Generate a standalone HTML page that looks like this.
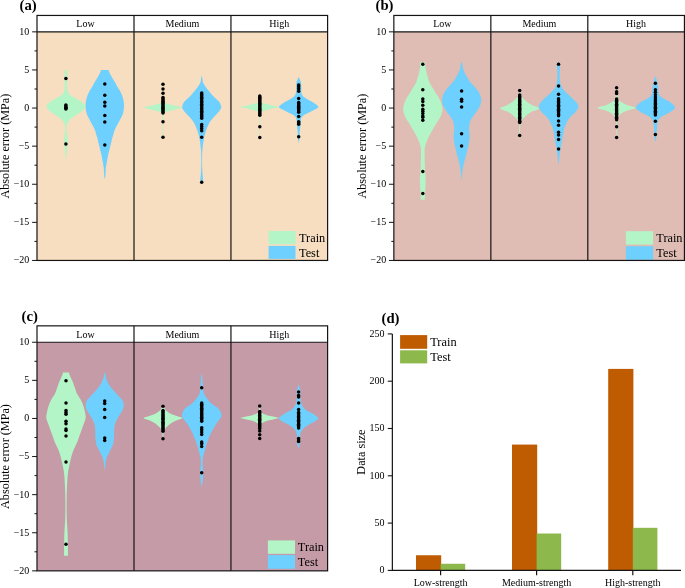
<!DOCTYPE html>
<html><head><meta charset="utf-8"><style>
html,body{margin:0;padding:0;background:#fff;}
svg{display:block;will-change:transform;}
text{font-family:'Liberation Serif',serif;fill:#000;}
</style></head><body>
<svg width="685" height="588" viewBox="0 0 685 588">
<rect width="685" height="588" fill="#fff"/>
<rect x="37.0" y="31.85" width="290.60" height="228.60" fill="#F7DEC0"/>
<path d="M67.05,69.90 C67.09,70.50 67.19,72.08 67.26,73.50 C67.34,74.92 67.51,76.98 67.50,78.40 C67.49,79.82 67.25,80.68 67.20,82.00 C67.15,83.32 67.18,85.10 67.20,86.30 C67.22,87.50 67.18,88.28 67.30,89.20 C67.42,90.12 67.60,91.02 67.90,91.80 C68.20,92.58 68.67,93.27 69.10,93.90 C69.53,94.53 69.73,95.03 70.50,95.60 C71.27,96.17 72.67,96.77 73.70,97.30 C74.73,97.83 75.38,98.02 76.70,98.80 C78.02,99.58 80.23,100.92 81.60,102.00 C82.97,103.08 84.30,104.43 84.90,105.30 C85.50,106.17 85.65,106.23 85.20,107.20 C84.75,108.17 83.20,110.10 82.20,111.10 C81.20,112.10 80.77,112.18 79.20,113.20 C77.63,114.22 74.55,115.85 72.80,117.20 C71.05,118.55 69.70,119.93 68.70,121.30 C67.70,122.67 67.15,123.87 66.80,125.40 C66.45,126.93 66.50,128.80 66.60,130.50 C66.70,132.20 67.22,134.07 67.40,135.60 C67.58,137.13 67.65,138.30 67.70,139.70 C67.75,141.10 67.80,142.47 67.70,144.00 C67.60,145.53 67.28,147.23 67.10,148.90 C66.92,150.57 66.80,152.15 66.60,154.00 C66.40,155.85 66.02,159.00 65.90,160.00 L65.90,160.00 C65.78,159.00 65.40,155.85 65.20,154.00 C65.00,152.15 64.88,150.57 64.70,148.90 C64.52,147.23 64.20,145.53 64.10,144.00 C64.00,142.47 64.05,141.10 64.10,139.70 C64.15,138.30 64.22,137.13 64.40,135.60 C64.58,134.07 65.10,132.20 65.20,130.50 C65.30,128.80 65.35,126.93 65.00,125.40 C64.65,123.87 64.10,122.67 63.10,121.30 C62.10,119.93 60.75,118.55 59.00,117.20 C57.25,115.85 54.17,114.22 52.60,113.20 C51.03,112.18 50.60,112.10 49.60,111.10 C48.60,110.10 47.05,108.17 46.60,107.20 C46.15,106.23 46.30,106.17 46.90,105.30 C47.50,104.43 48.83,103.08 50.20,102.00 C51.57,100.92 53.78,99.58 55.10,98.80 C56.42,98.02 57.07,97.83 58.10,97.30 C59.13,96.77 60.53,96.17 61.30,95.60 C62.07,95.03 62.27,94.53 62.70,93.90 C63.13,93.27 63.60,92.58 63.90,91.80 C64.20,91.02 64.38,90.12 64.50,89.20 C64.62,88.28 64.58,87.50 64.60,86.30 C64.62,85.10 64.65,83.32 64.60,82.00 C64.55,80.68 64.31,79.82 64.30,78.40 C64.29,76.98 64.47,74.92 64.54,73.50 C64.62,72.08 64.72,70.50 64.75,69.90 Z" fill="#B3F5C6"/>
<path d="M108.50,69.90 C108.80,70.62 109.63,72.82 110.30,74.20 C110.97,75.58 111.72,76.85 112.50,78.20 C113.28,79.55 114.22,80.93 115.00,82.30 C115.78,83.67 116.45,85.12 117.20,86.40 C117.95,87.68 118.78,88.72 119.50,90.00 C120.22,91.28 120.92,92.73 121.50,94.10 C122.08,95.47 122.57,96.85 122.95,98.20 C123.33,99.55 123.62,100.85 123.80,102.20 C123.97,103.55 124.03,104.93 124.00,106.30 C123.97,107.67 123.80,109.12 123.60,110.40 C123.40,111.68 123.24,112.72 122.80,114.00 C122.36,115.28 121.63,116.73 120.95,118.10 C120.27,119.47 119.44,120.85 118.70,122.20 C117.96,123.55 117.18,124.85 116.50,126.20 C115.82,127.55 115.12,128.93 114.60,130.30 C114.08,131.67 113.79,133.12 113.40,134.40 C113.01,135.68 112.59,136.72 112.25,138.00 C111.91,139.28 111.67,140.73 111.35,142.10 C111.02,143.47 110.64,144.85 110.30,146.20 C109.96,147.55 109.64,148.85 109.30,150.20 C108.96,151.55 108.55,152.93 108.25,154.30 C107.95,155.67 107.74,157.12 107.50,158.40 C107.26,159.68 106.97,161.05 106.80,162.00 C106.62,162.95 106.62,163.07 106.45,164.10 C106.28,165.13 105.94,166.85 105.80,168.20 C105.66,169.55 105.67,170.85 105.60,172.20 C105.52,173.55 105.48,175.08 105.35,176.30 C105.22,177.52 104.89,178.97 104.80,179.50 L104.80,179.50 C104.71,178.97 104.38,177.52 104.25,176.30 C104.12,175.08 104.08,173.55 104.00,172.20 C103.92,170.85 103.94,169.55 103.80,168.20 C103.66,166.85 103.32,165.13 103.15,164.10 C102.98,163.07 102.97,162.95 102.80,162.00 C102.62,161.05 102.34,159.68 102.10,158.40 C101.86,157.12 101.65,155.67 101.35,154.30 C101.05,152.93 100.64,151.55 100.30,150.20 C99.96,148.85 99.64,147.55 99.30,146.20 C98.96,144.85 98.58,143.47 98.25,142.10 C97.92,140.73 97.69,139.28 97.35,138.00 C97.01,136.72 96.59,135.68 96.20,134.40 C95.81,133.12 95.52,131.67 95.00,130.30 C94.48,128.93 93.78,127.55 93.10,126.20 C92.42,124.85 91.64,123.55 90.90,122.20 C90.16,120.85 89.33,119.47 88.65,118.10 C87.97,116.73 87.24,115.28 86.80,114.00 C86.36,112.72 86.20,111.68 86.00,110.40 C85.80,109.12 85.63,107.67 85.60,106.30 C85.57,104.93 85.62,103.55 85.80,102.20 C85.97,100.85 86.27,99.55 86.65,98.20 C87.03,96.85 87.52,95.47 88.10,94.10 C88.67,92.73 89.38,91.28 90.10,90.00 C90.82,88.72 91.65,87.68 92.40,86.40 C93.15,85.12 93.82,83.67 94.60,82.30 C95.38,80.93 96.32,79.55 97.10,78.20 C97.88,76.85 98.63,75.58 99.30,74.20 C99.97,72.82 100.80,70.62 101.10,69.90 Z" fill="#6DD0FE"/>
<path d="M163.35,84.00 C163.36,86.17 163.29,94.08 163.40,97.00 C163.51,99.92 163.73,100.55 164.00,101.50 C164.27,102.45 164.57,102.35 165.00,102.70 C165.43,103.05 165.58,103.27 166.60,103.60 C167.62,103.93 169.28,104.25 171.10,104.70 C172.92,105.15 175.65,105.85 177.50,106.30 C179.35,106.75 182.20,107.00 182.20,107.40 C182.20,107.80 179.35,108.18 177.50,108.70 C175.65,109.22 172.92,110.00 171.10,110.50 C169.28,111.00 167.62,111.33 166.60,111.70 C165.58,112.07 165.43,112.32 165.00,112.70 C164.57,113.08 164.27,113.12 164.00,114.00 C163.73,114.88 163.51,114.08 163.40,118.00 C163.29,121.92 163.36,134.25 163.35,137.50 L162.65,137.50 C162.64,134.25 162.71,121.92 162.60,118.00 C162.49,114.08 162.27,114.88 162.00,114.00 C161.73,113.12 161.43,113.08 161.00,112.70 C160.57,112.32 160.42,112.07 159.40,111.70 C158.38,111.33 156.72,111.00 154.90,110.50 C153.08,110.00 150.35,109.22 148.50,108.70 C146.65,108.18 143.80,107.80 143.80,107.40 C143.80,107.00 146.65,106.75 148.50,106.30 C150.35,105.85 153.08,105.15 154.90,104.70 C156.72,104.25 158.38,103.93 159.40,103.60 C160.42,103.27 160.57,103.05 161.00,102.70 C161.43,102.35 161.73,102.45 162.00,101.50 C162.27,100.55 162.49,99.92 162.60,97.00 C162.71,94.08 162.64,86.17 162.65,84.00 Z" fill="#B3F5C6"/>
<path d="M201.70,75.80 C201.80,76.18 202.10,77.03 202.30,78.10 C202.50,79.17 202.42,80.85 202.90,82.20 C203.38,83.55 204.32,84.85 205.20,86.20 C206.08,87.55 207.12,88.93 208.20,90.30 C209.28,91.67 210.55,93.12 211.70,94.40 C212.85,95.68 213.83,96.72 215.10,98.00 C216.37,99.28 218.30,100.73 219.30,102.10 C220.30,103.47 220.82,105.18 221.10,106.20 C221.38,107.22 221.20,107.53 221.00,108.20 C220.80,108.87 220.65,109.18 219.90,110.20 C219.15,111.22 217.72,112.93 216.50,114.30 C215.28,115.67 213.72,117.12 212.60,118.40 C211.48,119.68 210.59,120.72 209.80,122.00 C209.01,123.28 208.45,124.73 207.85,126.10 C207.25,127.47 206.68,128.85 206.20,130.20 C205.72,131.55 205.32,132.85 204.95,134.20 C204.57,135.55 204.22,136.93 203.95,138.30 C203.67,139.67 203.48,141.12 203.30,142.40 C203.12,143.68 203.00,144.73 202.85,146.00 C202.70,147.27 202.52,148.50 202.40,150.00 C202.28,151.50 202.20,152.50 202.15,155.00 C202.10,157.50 202.04,161.98 202.10,165.00 C202.16,168.02 202.37,171.02 202.50,173.10 C202.63,175.18 202.82,176.18 202.90,177.50 C202.98,178.82 203.20,179.92 203.00,181.00 C202.80,182.08 201.92,183.50 201.70,184.00 L201.70,184.00 C201.48,183.50 200.60,182.08 200.40,181.00 C200.20,179.92 200.42,178.82 200.50,177.50 C200.58,176.18 200.77,175.18 200.90,173.10 C201.03,171.02 201.24,168.02 201.30,165.00 C201.36,161.98 201.30,157.50 201.25,155.00 C201.20,152.50 201.12,151.50 201.00,150.00 C200.88,148.50 200.70,147.27 200.55,146.00 C200.40,144.73 200.28,143.68 200.10,142.40 C199.92,141.12 199.72,139.67 199.45,138.30 C199.17,136.93 198.82,135.55 198.45,134.20 C198.07,132.85 197.68,131.55 197.20,130.20 C196.72,128.85 196.15,127.47 195.55,126.10 C194.95,124.73 194.39,123.28 193.60,122.00 C192.81,120.72 191.92,119.68 190.80,118.40 C189.68,117.12 188.12,115.67 186.90,114.30 C185.68,112.93 184.25,111.22 183.50,110.20 C182.75,109.18 182.60,108.87 182.40,108.20 C182.20,107.53 182.02,107.22 182.30,106.20 C182.58,105.18 183.10,103.47 184.10,102.10 C185.10,100.73 187.03,99.28 188.30,98.00 C189.57,96.72 190.55,95.68 191.70,94.40 C192.85,93.12 194.12,91.67 195.20,90.30 C196.28,88.93 197.32,87.55 198.20,86.20 C199.08,84.85 200.02,83.55 200.50,82.20 C200.98,80.85 200.90,79.17 201.10,78.10 C201.30,77.03 201.60,76.18 201.70,75.80 Z" fill="#6DD0FE"/>
<path d="M260.20,95.00 C260.27,96.00 260.33,99.72 260.60,101.00 C260.87,102.28 261.05,102.27 261.80,102.70 C262.55,103.13 263.33,103.12 265.10,103.60 C266.87,104.08 270.03,105.02 272.40,105.60 C274.77,106.18 279.30,106.63 279.30,107.10 C279.30,107.57 274.77,107.83 272.40,108.40 C270.03,108.97 266.87,110.00 265.10,110.50 C263.33,111.00 262.57,110.98 261.80,111.40 C261.03,111.82 260.77,112.23 260.50,113.00 C260.23,113.77 260.27,111.75 260.20,116.00 C260.13,120.25 260.12,134.75 260.10,138.50 L259.50,138.50 C259.48,134.75 259.47,120.25 259.40,116.00 C259.33,111.75 259.37,113.77 259.10,113.00 C258.83,112.23 258.57,111.82 257.80,111.40 C257.03,110.98 256.27,111.00 254.50,110.50 C252.73,110.00 249.57,108.97 247.20,108.40 C244.83,107.83 240.30,107.57 240.30,107.10 C240.30,106.63 244.83,106.18 247.20,105.60 C249.57,105.02 252.73,104.08 254.50,103.60 C256.27,103.12 257.05,103.13 257.80,102.70 C258.55,102.27 258.73,102.28 259.00,101.00 C259.27,99.72 259.33,96.00 259.40,95.00 Z" fill="#B3F5C6"/>
<path d="M298.70,77.10 C299.07,77.95 300.47,80.38 300.90,82.20 C301.33,84.02 301.18,86.08 301.30,88.00 C301.42,89.92 301.03,92.12 301.60,93.70 C302.17,95.28 303.12,96.23 304.70,97.50 C306.28,98.77 309.18,100.13 311.10,101.30 C313.02,102.47 314.98,103.55 316.20,104.50 C317.42,105.45 318.62,106.15 318.40,107.00 C318.18,107.85 316.53,108.63 314.90,109.60 C313.27,110.57 310.62,111.75 308.60,112.80 C306.58,113.85 304.07,114.85 302.80,115.90 C301.53,116.95 301.42,117.28 301.00,119.10 C300.58,120.92 300.52,124.67 300.30,126.80 C300.08,128.93 299.80,130.25 299.70,131.90 C299.60,133.55 299.87,134.80 299.70,136.70 C299.53,138.60 298.87,142.20 298.70,143.30 L298.70,143.30 C298.53,142.20 297.87,138.60 297.70,136.70 C297.53,134.80 297.80,133.55 297.70,131.90 C297.60,130.25 297.32,128.93 297.10,126.80 C296.88,124.67 296.82,120.92 296.40,119.10 C295.98,117.28 295.87,116.95 294.60,115.90 C293.33,114.85 290.82,113.85 288.80,112.80 C286.78,111.75 284.13,110.57 282.50,109.60 C280.87,108.63 279.22,107.85 279.00,107.00 C278.78,106.15 279.98,105.45 281.20,104.50 C282.42,103.55 284.38,102.47 286.30,101.30 C288.22,100.13 291.12,98.77 292.70,97.50 C294.28,96.23 295.23,95.28 295.80,93.70 C296.37,92.12 295.98,89.92 296.10,88.00 C296.22,86.08 296.07,84.02 296.50,82.20 C296.93,80.38 298.33,77.95 298.70,77.10 Z" fill="#6DD0FE"/>
<circle cx="65.90" cy="78.40" r="1.75"/>
<circle cx="65.90" cy="104.90" r="1.75"/>
<circle cx="65.90" cy="106.00" r="1.75"/>
<circle cx="65.90" cy="107.20" r="1.75"/>
<circle cx="65.90" cy="108.20" r="1.75"/>
<circle cx="65.90" cy="109.10" r="1.75"/>
<circle cx="65.90" cy="144.00" r="1.75"/>
<circle cx="104.80" cy="83.90" r="1.75"/>
<circle cx="104.80" cy="95.30" r="1.75"/>
<circle cx="104.80" cy="102.20" r="1.75"/>
<circle cx="104.80" cy="106.10" r="1.75"/>
<circle cx="104.80" cy="115.50" r="1.75"/>
<circle cx="104.80" cy="122.00" r="1.75"/>
<circle cx="104.80" cy="144.90" r="1.75"/>
<circle cx="163.00" cy="84.30" r="1.75"/>
<circle cx="163.00" cy="89.10" r="1.75"/>
<circle cx="163.00" cy="93.30" r="1.75"/>
<circle cx="163.00" cy="97.50" r="1.75"/>
<circle cx="163.00" cy="98.80" r="1.75"/>
<circle cx="163.00" cy="100.00" r="1.75"/>
<circle cx="163.00" cy="101.20" r="1.75"/>
<circle cx="163.00" cy="102.40" r="1.75"/>
<circle cx="163.00" cy="103.60" r="1.75"/>
<circle cx="163.00" cy="104.80" r="1.75"/>
<circle cx="163.00" cy="106.00" r="1.75"/>
<circle cx="163.00" cy="107.20" r="1.75"/>
<circle cx="163.00" cy="108.40" r="1.75"/>
<circle cx="163.00" cy="109.60" r="1.75"/>
<circle cx="163.00" cy="110.80" r="1.75"/>
<circle cx="163.00" cy="112.00" r="1.75"/>
<circle cx="163.00" cy="113.00" r="1.75"/>
<circle cx="163.00" cy="121.80" r="1.75"/>
<circle cx="163.00" cy="137.30" r="1.75"/>
<circle cx="201.70" cy="93.00" r="1.75"/>
<circle cx="201.70" cy="94.40" r="1.75"/>
<circle cx="201.70" cy="95.80" r="1.75"/>
<circle cx="201.70" cy="97.20" r="1.75"/>
<circle cx="201.70" cy="98.60" r="1.75"/>
<circle cx="201.70" cy="100.00" r="1.75"/>
<circle cx="201.70" cy="101.40" r="1.75"/>
<circle cx="201.70" cy="102.80" r="1.75"/>
<circle cx="201.70" cy="104.20" r="1.75"/>
<circle cx="201.70" cy="105.60" r="1.75"/>
<circle cx="201.70" cy="107.00" r="1.75"/>
<circle cx="201.70" cy="108.40" r="1.75"/>
<circle cx="201.70" cy="109.80" r="1.75"/>
<circle cx="201.70" cy="111.20" r="1.75"/>
<circle cx="201.70" cy="112.60" r="1.75"/>
<circle cx="201.70" cy="114.00" r="1.75"/>
<circle cx="201.70" cy="115.40" r="1.75"/>
<circle cx="201.70" cy="116.80" r="1.75"/>
<circle cx="201.70" cy="118.20" r="1.75"/>
<circle cx="201.70" cy="124.50" r="1.75"/>
<circle cx="201.70" cy="126.50" r="1.75"/>
<circle cx="201.70" cy="128.50" r="1.75"/>
<circle cx="201.70" cy="130.80" r="1.75"/>
<circle cx="201.70" cy="137.30" r="1.75"/>
<circle cx="201.70" cy="182.30" r="1.75"/>
<circle cx="259.80" cy="96.10" r="1.75"/>
<circle cx="259.80" cy="97.30" r="1.75"/>
<circle cx="259.80" cy="98.50" r="1.75"/>
<circle cx="259.80" cy="99.70" r="1.75"/>
<circle cx="259.80" cy="100.90" r="1.75"/>
<circle cx="259.80" cy="102.10" r="1.75"/>
<circle cx="259.80" cy="103.30" r="1.75"/>
<circle cx="259.80" cy="104.50" r="1.75"/>
<circle cx="259.80" cy="105.70" r="1.75"/>
<circle cx="259.80" cy="106.90" r="1.75"/>
<circle cx="259.80" cy="108.10" r="1.75"/>
<circle cx="259.80" cy="109.30" r="1.75"/>
<circle cx="259.80" cy="110.50" r="1.75"/>
<circle cx="259.80" cy="111.70" r="1.75"/>
<circle cx="259.80" cy="112.90" r="1.75"/>
<circle cx="259.80" cy="114.10" r="1.75"/>
<circle cx="259.80" cy="115.30" r="1.75"/>
<circle cx="259.80" cy="126.80" r="1.75"/>
<circle cx="259.80" cy="137.60" r="1.75"/>
<circle cx="298.70" cy="84.90" r="1.75"/>
<circle cx="298.70" cy="86.80" r="1.75"/>
<circle cx="298.70" cy="88.80" r="1.75"/>
<circle cx="298.70" cy="91.20" r="1.75"/>
<circle cx="298.70" cy="98.40" r="1.75"/>
<circle cx="298.70" cy="102.60" r="1.75"/>
<circle cx="298.70" cy="103.80" r="1.75"/>
<circle cx="298.70" cy="105.00" r="1.75"/>
<circle cx="298.70" cy="106.20" r="1.75"/>
<circle cx="298.70" cy="107.40" r="1.75"/>
<circle cx="298.70" cy="108.60" r="1.75"/>
<circle cx="298.70" cy="109.80" r="1.75"/>
<circle cx="298.70" cy="111.00" r="1.75"/>
<circle cx="298.70" cy="112.20" r="1.75"/>
<circle cx="298.70" cy="116.40" r="1.75"/>
<circle cx="298.70" cy="121.70" r="1.75"/>
<circle cx="298.70" cy="123.00" r="1.75"/>
<circle cx="298.70" cy="124.20" r="1.75"/>
<circle cx="298.70" cy="136.70" r="1.75"/>
<rect x="268.6" y="231.0" width="26.90" height="13.10" fill="#B3F5C6"/>
<rect x="268.6" y="245.9" width="26.90" height="13.00" fill="#6DD0FE"/>
<text x="299.0" y="241.9" font-size="12.3">Train</text>
<text x="299.0" y="256.7" font-size="12.3">Test</text>
<g stroke="#141414" stroke-width="1.2" fill="none">
<rect x="37.0" y="15.45" width="290.60" height="245.00"/>
<line x1="37.0" y1="31.85" x2="327.6" y2="31.85"/>
<line x1="134.00" y1="15.45" x2="134.00" y2="260.45"/>
<line x1="230.95" y1="15.45" x2="230.95" y2="260.45"/>
<line x1="32.10" y1="31.85" x2="37.0" y2="31.85" stroke-width="1.0"/>
<line x1="34.50" y1="50.90" x2="37.0" y2="50.90" stroke-width="1.0"/>
<line x1="32.10" y1="69.95" x2="37.0" y2="69.95" stroke-width="1.0"/>
<line x1="34.50" y1="89.00" x2="37.0" y2="89.00" stroke-width="1.0"/>
<line x1="32.10" y1="108.05" x2="37.0" y2="108.05" stroke-width="1.0"/>
<line x1="34.50" y1="127.10" x2="37.0" y2="127.10" stroke-width="1.0"/>
<line x1="32.10" y1="146.15" x2="37.0" y2="146.15" stroke-width="1.0"/>
<line x1="34.50" y1="165.20" x2="37.0" y2="165.20" stroke-width="1.0"/>
<line x1="32.10" y1="184.25" x2="37.0" y2="184.25" stroke-width="1.0"/>
<line x1="34.50" y1="203.30" x2="37.0" y2="203.30" stroke-width="1.0"/>
<line x1="32.10" y1="222.35" x2="37.0" y2="222.35" stroke-width="1.0"/>
<line x1="34.50" y1="241.40" x2="37.0" y2="241.40" stroke-width="1.0"/>
<line x1="32.10" y1="260.45" x2="37.0" y2="260.45" stroke-width="1.0"/>
</g>
<text x="29.30" y="34.75" font-size="10" text-anchor="end">10</text>
<text x="29.30" y="72.85" font-size="10" text-anchor="end">5</text>
<text x="29.30" y="110.95" font-size="10" text-anchor="end">0</text>
<text x="29.30" y="149.05" font-size="10" text-anchor="end">−5</text>
<text x="29.30" y="187.15" font-size="10" text-anchor="end">−10</text>
<text x="29.30" y="225.25" font-size="10" text-anchor="end">−15</text>
<text x="29.30" y="263.35" font-size="10" text-anchor="end">−20</text>
<text x="85.50" y="27.00" font-size="10" text-anchor="middle">Low</text>
<text x="182.47" y="27.00" font-size="10" text-anchor="middle">Medium</text>
<text x="279.27" y="27.00" font-size="10" text-anchor="middle">High</text>
<text transform="translate(8.90,146.15) rotate(-90)" font-size="12.2" text-anchor="middle">Absolute error (MPa)</text>
<text x="19.50" y="9.50" font-size="14.7" font-weight="bold">(a)</text>
<rect x="393.85" y="31.85" width="290.60" height="228.60" fill="#DFBDB4"/>
<path d="M425.20,62.20 C425.23,62.85 425.26,64.77 425.40,66.10 C425.54,67.43 425.80,68.83 426.05,70.20 C426.30,71.57 426.56,72.93 426.90,74.30 C427.24,75.67 427.67,77.05 428.10,78.40 C428.53,79.75 429.13,81.47 429.50,82.40 C429.87,83.33 429.75,83.05 430.30,84.00 C430.85,84.95 431.98,86.73 432.80,88.10 C433.62,89.47 434.35,90.85 435.20,92.20 C436.05,93.55 437.08,94.85 437.90,96.20 C438.72,97.55 439.48,98.93 440.10,100.30 C440.72,101.67 441.22,103.12 441.60,104.40 C441.98,105.68 442.32,106.72 442.40,108.00 C442.48,109.28 442.38,110.73 442.10,112.10 C441.82,113.47 441.30,114.85 440.70,116.20 C440.10,117.55 439.32,118.85 438.50,120.20 C437.68,121.55 436.65,122.93 435.80,124.30 C434.95,125.67 434.13,127.12 433.40,128.40 C432.67,129.68 432.10,130.72 431.40,132.00 C430.70,133.28 429.90,134.73 429.20,136.10 C428.50,137.47 427.78,138.85 427.20,140.20 C426.62,141.55 426.10,142.85 425.70,144.20 C425.30,145.55 424.98,146.93 424.80,148.30 C424.62,149.67 424.62,151.08 424.60,152.40 C424.58,153.72 424.62,154.23 424.65,156.20 C424.68,158.17 424.73,161.65 424.80,164.20 C424.88,166.75 424.98,169.47 425.10,171.50 C425.22,173.53 425.41,174.50 425.50,176.40 C425.59,178.30 425.67,180.85 425.65,182.90 C425.63,184.95 425.51,186.85 425.40,188.70 C425.29,190.55 425.10,192.17 425.00,194.00 C424.90,195.83 424.83,198.75 424.80,199.70 L420.80,199.70 C420.77,198.75 420.70,195.83 420.60,194.00 C420.50,192.17 420.31,190.55 420.20,188.70 C420.09,186.85 419.97,184.95 419.95,182.90 C419.93,180.85 420.01,178.30 420.10,176.40 C420.19,174.50 420.38,173.53 420.50,171.50 C420.62,169.47 420.73,166.75 420.80,164.20 C420.88,161.65 420.92,158.17 420.95,156.20 C420.98,154.23 421.02,153.72 421.00,152.40 C420.98,151.08 420.98,149.67 420.80,148.30 C420.62,146.93 420.30,145.55 419.90,144.20 C419.50,142.85 418.98,141.55 418.40,140.20 C417.82,138.85 417.10,137.47 416.40,136.10 C415.70,134.73 414.90,133.28 414.20,132.00 C413.50,130.72 412.93,129.68 412.20,128.40 C411.47,127.12 410.65,125.67 409.80,124.30 C408.95,122.93 407.92,121.55 407.10,120.20 C406.28,118.85 405.50,117.55 404.90,116.20 C404.30,114.85 403.78,113.47 403.50,112.10 C403.22,110.73 403.12,109.28 403.20,108.00 C403.28,106.72 403.62,105.68 404.00,104.40 C404.38,103.12 404.88,101.67 405.50,100.30 C406.12,98.93 406.88,97.55 407.70,96.20 C408.52,94.85 409.55,93.55 410.40,92.20 C411.25,90.85 411.98,89.47 412.80,88.10 C413.62,86.73 414.75,84.95 415.30,84.00 C415.85,83.05 415.73,83.33 416.10,82.40 C416.47,81.47 417.07,79.75 417.50,78.40 C417.93,77.05 418.36,75.67 418.70,74.30 C419.04,72.93 419.30,71.57 419.55,70.20 C419.80,68.83 420.06,67.43 420.20,66.10 C420.34,64.77 420.37,62.85 420.40,62.20 Z" fill="#B3F5C6"/>
<path d="M461.60,61.50 C461.73,61.93 462.17,62.98 462.40,64.10 C462.63,65.22 462.67,66.85 463.00,68.20 C463.33,69.55 463.82,70.85 464.40,72.20 C464.98,73.55 465.72,74.93 466.50,76.30 C467.28,77.67 468.18,79.12 469.10,80.40 C470.02,81.68 470.91,82.72 472.00,84.00 C473.09,85.28 474.53,86.73 475.65,88.10 C476.77,89.47 477.88,90.85 478.70,92.20 C479.52,93.55 480.13,94.85 480.55,96.20 C480.97,97.55 481.20,98.93 481.20,100.30 C481.20,101.67 480.96,103.12 480.55,104.40 C480.14,105.68 479.46,106.72 478.75,108.00 C478.04,109.28 477.23,110.73 476.30,112.10 C475.38,113.47 474.15,114.85 473.20,116.20 C472.25,117.55 471.23,118.85 470.60,120.20 C469.97,121.55 469.67,122.93 469.40,124.30 C469.13,125.67 469.03,127.12 469.00,128.40 C468.97,129.68 469.10,130.72 469.20,132.00 C469.30,133.28 469.58,134.73 469.60,136.10 C469.62,137.47 469.49,138.85 469.35,140.20 C469.21,141.55 469.02,142.85 468.75,144.20 C468.48,145.55 468.04,146.93 467.70,148.30 C467.36,149.67 467.01,151.12 466.70,152.40 C466.39,153.68 466.22,154.60 465.85,156.00 C465.48,157.40 464.91,159.22 464.50,160.80 C464.09,162.38 463.73,163.92 463.40,165.50 C463.08,167.08 462.76,168.72 462.55,170.30 C462.34,171.88 462.31,173.25 462.15,175.00 C461.99,176.75 461.69,179.83 461.60,180.80 L461.60,180.80 C461.51,179.83 461.21,176.75 461.05,175.00 C460.89,173.25 460.86,171.88 460.65,170.30 C460.44,168.72 460.12,167.08 459.80,165.50 C459.48,163.92 459.11,162.38 458.70,160.80 C458.29,159.22 457.72,157.40 457.35,156.00 C456.98,154.60 456.81,153.68 456.50,152.40 C456.19,151.12 455.84,149.67 455.50,148.30 C455.16,146.93 454.73,145.55 454.45,144.20 C454.18,142.85 453.99,141.55 453.85,140.20 C453.71,138.85 453.58,137.47 453.60,136.10 C453.62,134.73 453.90,133.28 454.00,132.00 C454.10,130.72 454.23,129.68 454.20,128.40 C454.17,127.12 454.07,125.67 453.80,124.30 C453.53,122.93 453.23,121.55 452.60,120.20 C451.97,118.85 450.95,117.55 450.00,116.20 C449.05,114.85 447.83,113.47 446.90,112.10 C445.98,110.73 445.16,109.28 444.45,108.00 C443.74,106.72 443.06,105.68 442.65,104.40 C442.24,103.12 442.00,101.67 442.00,100.30 C442.00,98.93 442.23,97.55 442.65,96.20 C443.07,94.85 443.68,93.55 444.50,92.20 C445.32,90.85 446.43,89.47 447.55,88.10 C448.67,86.73 450.11,85.28 451.20,84.00 C452.29,82.72 453.18,81.68 454.10,80.40 C455.02,79.12 455.92,77.67 456.70,76.30 C457.48,74.93 458.22,73.55 458.80,72.20 C459.38,70.85 459.87,69.55 460.20,68.20 C460.53,66.85 460.57,65.22 460.80,64.10 C461.03,62.98 461.47,61.93 461.60,61.50 Z" fill="#6DD0FE"/>
<path d="M520.00,88.00 C520.02,88.67 519.97,90.75 520.15,92.00 C520.33,93.25 520.73,94.60 521.10,95.50 C521.48,96.40 521.55,96.45 522.40,97.40 C523.25,98.35 524.62,99.93 526.20,101.20 C527.78,102.47 529.72,103.80 531.90,105.00 C534.08,106.20 539.30,107.32 539.30,108.40 C539.30,109.48 534.08,110.32 531.90,111.50 C529.72,112.68 527.78,114.20 526.20,115.50 C524.62,116.80 523.23,118.35 522.40,119.30 C521.57,120.25 521.53,120.58 521.20,121.20 C520.87,121.82 520.58,122.20 520.40,123.00 C520.22,123.80 520.17,123.33 520.10,126.00 C520.03,128.67 520.02,136.83 520.00,139.00 L519.40,139.00 C519.38,136.83 519.37,128.67 519.30,126.00 C519.23,123.33 519.18,123.80 519.00,123.00 C518.82,122.20 518.53,121.82 518.20,121.20 C517.87,120.58 517.83,120.25 517.00,119.30 C516.17,118.35 514.78,116.80 513.20,115.50 C511.62,114.20 509.68,112.68 507.50,111.50 C505.32,110.32 500.10,109.48 500.10,108.40 C500.10,107.32 505.32,106.20 507.50,105.00 C509.68,103.80 511.62,102.47 513.20,101.20 C514.78,99.93 516.15,98.35 517.00,97.40 C517.85,96.45 517.93,96.40 518.30,95.50 C518.68,94.60 519.07,93.25 519.25,92.00 C519.43,90.75 519.38,88.67 519.40,88.00 Z" fill="#B3F5C6"/>
<path d="M559.05,62.60 C559.23,62.88 560.00,63.37 560.15,64.30 C560.30,65.23 560.02,66.70 559.95,68.20 C559.88,69.70 559.77,71.60 559.75,73.30 C559.73,75.00 559.82,77.28 559.85,78.40 C559.88,79.52 559.83,79.05 559.95,80.00 C560.07,80.95 560.13,82.73 560.55,84.10 C560.97,85.47 561.57,86.85 562.45,88.20 C563.33,89.55 564.57,90.85 565.85,92.20 C567.13,93.55 568.68,94.93 570.15,96.30 C571.62,97.67 573.42,99.12 574.65,100.40 C575.88,101.68 576.95,102.98 577.55,104.00 C578.15,105.02 578.15,105.82 578.25,106.50 C578.35,107.18 578.63,107.15 578.15,108.10 C577.67,109.05 576.53,110.85 575.35,112.20 C574.17,113.55 572.30,114.85 571.05,116.20 C569.80,117.55 568.70,118.93 567.85,120.30 C567.00,121.67 566.52,123.12 565.95,124.40 C565.38,125.68 564.80,126.72 564.40,128.00 C564.00,129.28 563.82,130.73 563.55,132.10 C563.27,133.47 562.99,134.85 562.75,136.20 C562.51,137.55 562.34,138.85 562.10,140.20 C561.86,141.55 561.55,142.93 561.30,144.30 C561.05,145.67 560.80,147.12 560.60,148.40 C560.40,149.68 560.27,150.73 560.10,152.00 C559.92,153.27 559.71,154.67 559.55,156.00 C559.39,157.33 559.32,158.50 559.15,160.00 C558.98,161.50 558.65,164.17 558.55,165.00 L558.55,165.00 C558.45,164.17 558.12,161.50 557.95,160.00 C557.78,158.50 557.71,157.33 557.55,156.00 C557.39,154.67 557.17,153.27 557.00,152.00 C556.83,150.73 556.70,149.68 556.50,148.40 C556.30,147.12 556.05,145.67 555.80,144.30 C555.55,142.93 555.24,141.55 555.00,140.20 C554.76,138.85 554.59,137.55 554.35,136.20 C554.11,134.85 553.82,133.47 553.55,132.10 C553.27,130.73 553.10,129.28 552.70,128.00 C552.30,126.72 551.72,125.68 551.15,124.40 C550.58,123.12 550.10,121.67 549.25,120.30 C548.40,118.93 547.30,117.55 546.05,116.20 C544.80,114.85 542.93,113.55 541.75,112.20 C540.57,110.85 539.43,109.05 538.95,108.10 C538.47,107.15 538.75,107.18 538.85,106.50 C538.95,105.82 538.95,105.02 539.55,104.00 C540.15,102.98 541.22,101.68 542.45,100.40 C543.68,99.12 545.48,97.67 546.95,96.30 C548.42,94.93 549.97,93.55 551.25,92.20 C552.53,90.85 553.77,89.55 554.65,88.20 C555.53,86.85 556.13,85.47 556.55,84.10 C556.97,82.73 557.03,80.95 557.15,80.00 C557.27,79.05 557.22,79.52 557.25,78.40 C557.28,77.28 557.37,75.00 557.35,73.30 C557.33,71.60 557.22,69.70 557.15,68.20 C557.08,66.70 556.80,65.23 556.95,64.30 C557.10,63.37 557.87,62.88 558.05,62.60 Z" fill="#6DD0FE"/>
<path d="M616.90,86.00 C616.92,87.17 616.90,91.17 617.00,93.00 C617.10,94.83 617.27,96.03 617.50,97.00 C617.73,97.97 618.08,98.23 618.40,98.80 C618.72,99.37 618.65,99.72 619.40,100.40 C620.15,101.08 621.28,102.02 622.90,102.90 C624.52,103.78 626.90,104.90 629.10,105.70 C631.30,106.50 636.10,106.97 636.10,107.70 C636.10,108.43 631.30,109.28 629.10,110.10 C626.90,110.92 624.52,111.75 622.90,112.60 C621.28,113.45 620.15,114.43 619.40,115.20 C618.65,115.97 618.75,116.57 618.40,117.20 C618.05,117.83 617.53,118.20 617.30,119.00 C617.07,119.80 617.07,118.67 617.00,122.00 C616.93,125.33 616.92,136.17 616.90,139.00 L616.30,139.00 C616.28,136.17 616.27,125.33 616.20,122.00 C616.13,118.67 616.13,119.80 615.90,119.00 C615.67,118.20 615.15,117.83 614.80,117.20 C614.45,116.57 614.55,115.97 613.80,115.20 C613.05,114.43 611.92,113.45 610.30,112.60 C608.68,111.75 606.30,110.92 604.10,110.10 C601.90,109.28 597.10,108.43 597.10,107.70 C597.10,106.97 601.90,106.50 604.10,105.70 C606.30,104.90 608.68,103.78 610.30,102.90 C611.92,102.02 613.05,101.08 613.80,100.40 C614.55,99.72 614.48,99.37 614.80,98.80 C615.12,98.23 615.47,97.97 615.70,97.00 C615.93,96.03 616.10,94.83 616.20,93.00 C616.30,91.17 616.28,87.17 616.30,86.00 Z" fill="#B3F5C6"/>
<path d="M655.40,75.80 C655.60,76.43 656.27,78.35 656.60,79.60 C656.93,80.85 657.12,82.02 657.40,83.30 C657.68,84.58 658.05,85.57 658.30,87.30 C658.55,89.03 658.32,92.00 658.90,93.70 C659.48,95.40 660.15,96.23 661.80,97.50 C663.45,98.77 666.95,100.13 668.80,101.30 C670.65,102.47 671.85,103.43 672.90,104.50 C673.95,105.57 675.28,106.63 675.10,107.70 C674.92,108.77 673.48,109.73 671.80,110.90 C670.12,112.07 666.98,113.53 665.00,114.70 C663.02,115.87 661.12,116.73 659.90,117.90 C658.68,119.07 658.18,120.22 657.70,121.70 C657.22,123.18 657.17,125.10 657.00,126.80 C656.83,128.50 656.83,130.00 656.70,131.90 C656.57,133.80 656.42,136.50 656.20,138.20 C655.98,139.90 655.53,141.45 655.40,142.10 L655.40,142.10 C655.27,141.45 654.82,139.90 654.60,138.20 C654.38,136.50 654.23,133.80 654.10,131.90 C653.97,130.00 653.97,128.50 653.80,126.80 C653.63,125.10 653.58,123.18 653.10,121.70 C652.62,120.22 652.12,119.07 650.90,117.90 C649.68,116.73 647.78,115.87 645.80,114.70 C643.82,113.53 640.68,112.07 639.00,110.90 C637.32,109.73 635.88,108.77 635.70,107.70 C635.52,106.63 636.85,105.57 637.90,104.50 C638.95,103.43 640.15,102.47 642.00,101.30 C643.85,100.13 647.35,98.77 649.00,97.50 C650.65,96.23 651.32,95.40 651.90,93.70 C652.48,92.00 652.25,89.03 652.50,87.30 C652.75,85.57 653.12,84.58 653.40,83.30 C653.68,82.02 653.87,80.85 654.20,79.60 C654.53,78.35 655.20,76.43 655.40,75.80 Z" fill="#6DD0FE"/>
<circle cx="422.80" cy="64.30" r="1.75"/>
<circle cx="422.80" cy="89.70" r="1.75"/>
<circle cx="422.80" cy="99.10" r="1.75"/>
<circle cx="422.80" cy="101.60" r="1.75"/>
<circle cx="422.80" cy="105.30" r="1.75"/>
<circle cx="422.80" cy="109.30" r="1.75"/>
<circle cx="422.80" cy="111.30" r="1.75"/>
<circle cx="422.80" cy="113.60" r="1.75"/>
<circle cx="422.80" cy="115.90" r="1.75"/>
<circle cx="422.80" cy="117.20" r="1.75"/>
<circle cx="422.80" cy="120.20" r="1.75"/>
<circle cx="422.80" cy="171.50" r="1.75"/>
<circle cx="422.80" cy="193.60" r="1.75"/>
<circle cx="461.60" cy="90.90" r="1.75"/>
<circle cx="461.60" cy="99.30" r="1.75"/>
<circle cx="461.60" cy="101.20" r="1.75"/>
<circle cx="461.60" cy="106.90" r="1.75"/>
<circle cx="461.60" cy="133.80" r="1.75"/>
<circle cx="461.60" cy="146.10" r="1.75"/>
<circle cx="519.70" cy="90.50" r="1.75"/>
<circle cx="519.70" cy="95.00" r="1.75"/>
<circle cx="519.70" cy="96.50" r="1.75"/>
<circle cx="519.70" cy="97.80" r="1.75"/>
<circle cx="519.70" cy="99.10" r="1.75"/>
<circle cx="519.70" cy="100.40" r="1.75"/>
<circle cx="519.70" cy="101.70" r="1.75"/>
<circle cx="519.70" cy="103.00" r="1.75"/>
<circle cx="519.70" cy="104.30" r="1.75"/>
<circle cx="519.70" cy="105.60" r="1.75"/>
<circle cx="519.70" cy="106.90" r="1.75"/>
<circle cx="519.70" cy="108.20" r="1.75"/>
<circle cx="519.70" cy="109.50" r="1.75"/>
<circle cx="519.70" cy="110.80" r="1.75"/>
<circle cx="519.70" cy="112.10" r="1.75"/>
<circle cx="519.70" cy="113.40" r="1.75"/>
<circle cx="519.70" cy="114.70" r="1.75"/>
<circle cx="519.70" cy="116.00" r="1.75"/>
<circle cx="519.70" cy="117.30" r="1.75"/>
<circle cx="519.70" cy="118.60" r="1.75"/>
<circle cx="519.70" cy="119.90" r="1.75"/>
<circle cx="519.70" cy="121.20" r="1.75"/>
<circle cx="519.70" cy="122.50" r="1.75"/>
<circle cx="519.70" cy="135.50" r="1.75"/>
<circle cx="558.55" cy="64.30" r="1.75"/>
<circle cx="558.55" cy="85.90" r="1.75"/>
<circle cx="558.55" cy="94.30" r="1.75"/>
<circle cx="558.55" cy="98.80" r="1.75"/>
<circle cx="558.55" cy="100.10" r="1.75"/>
<circle cx="558.55" cy="101.40" r="1.75"/>
<circle cx="558.55" cy="102.70" r="1.75"/>
<circle cx="558.55" cy="104.00" r="1.75"/>
<circle cx="558.55" cy="105.30" r="1.75"/>
<circle cx="558.55" cy="106.60" r="1.75"/>
<circle cx="558.55" cy="107.90" r="1.75"/>
<circle cx="558.55" cy="109.20" r="1.75"/>
<circle cx="558.55" cy="110.50" r="1.75"/>
<circle cx="558.55" cy="111.80" r="1.75"/>
<circle cx="558.55" cy="113.10" r="1.75"/>
<circle cx="558.55" cy="114.40" r="1.75"/>
<circle cx="558.55" cy="115.70" r="1.75"/>
<circle cx="558.55" cy="120.90" r="1.75"/>
<circle cx="558.55" cy="125.20" r="1.75"/>
<circle cx="558.55" cy="132.30" r="1.75"/>
<circle cx="558.55" cy="134.90" r="1.75"/>
<circle cx="558.55" cy="139.40" r="1.75"/>
<circle cx="558.55" cy="148.90" r="1.75"/>
<circle cx="616.60" cy="87.80" r="1.75"/>
<circle cx="616.60" cy="91.70" r="1.75"/>
<circle cx="616.60" cy="93.40" r="1.75"/>
<circle cx="616.60" cy="99.00" r="1.75"/>
<circle cx="616.60" cy="100.30" r="1.75"/>
<circle cx="616.60" cy="101.60" r="1.75"/>
<circle cx="616.60" cy="102.90" r="1.75"/>
<circle cx="616.60" cy="104.20" r="1.75"/>
<circle cx="616.60" cy="105.50" r="1.75"/>
<circle cx="616.60" cy="106.80" r="1.75"/>
<circle cx="616.60" cy="108.10" r="1.75"/>
<circle cx="616.60" cy="109.40" r="1.75"/>
<circle cx="616.60" cy="110.70" r="1.75"/>
<circle cx="616.60" cy="112.00" r="1.75"/>
<circle cx="616.60" cy="113.30" r="1.75"/>
<circle cx="616.60" cy="114.60" r="1.75"/>
<circle cx="616.60" cy="115.90" r="1.75"/>
<circle cx="616.60" cy="117.20" r="1.75"/>
<circle cx="616.60" cy="118.50" r="1.75"/>
<circle cx="616.60" cy="119.80" r="1.75"/>
<circle cx="616.60" cy="126.70" r="1.75"/>
<circle cx="616.60" cy="137.60" r="1.75"/>
<circle cx="655.40" cy="83.30" r="1.75"/>
<circle cx="655.40" cy="89.70" r="1.75"/>
<circle cx="655.40" cy="92.30" r="1.75"/>
<circle cx="655.40" cy="94.80" r="1.75"/>
<circle cx="655.40" cy="97.00" r="1.75"/>
<circle cx="655.40" cy="98.90" r="1.75"/>
<circle cx="655.40" cy="100.80" r="1.75"/>
<circle cx="655.40" cy="102.10" r="1.75"/>
<circle cx="655.40" cy="103.40" r="1.75"/>
<circle cx="655.40" cy="104.70" r="1.75"/>
<circle cx="655.40" cy="106.00" r="1.75"/>
<circle cx="655.40" cy="107.30" r="1.75"/>
<circle cx="655.40" cy="108.60" r="1.75"/>
<circle cx="655.40" cy="109.90" r="1.75"/>
<circle cx="655.40" cy="111.20" r="1.75"/>
<circle cx="655.40" cy="112.50" r="1.75"/>
<circle cx="655.40" cy="113.80" r="1.75"/>
<circle cx="655.40" cy="115.10" r="1.75"/>
<circle cx="655.40" cy="121.20" r="1.75"/>
<circle cx="655.40" cy="134.40" r="1.75"/>
<rect x="625.9" y="231.2" width="27.20" height="13.40" fill="#B3F5C6"/>
<rect x="625.9" y="246.2" width="27.20" height="13.60" fill="#6DD0FE"/>
<text x="656.3" y="242.0" font-size="12.3">Train</text>
<text x="656.3" y="256.8" font-size="12.3">Test</text>
<g stroke="#141414" stroke-width="1.2" fill="none">
<rect x="393.85" y="15.45" width="290.60" height="245.00"/>
<line x1="393.85" y1="31.85" x2="684.45" y2="31.85"/>
<line x1="490.85" y1="15.45" x2="490.85" y2="260.45"/>
<line x1="587.80" y1="15.45" x2="587.80" y2="260.45"/>
<line x1="388.95" y1="31.85" x2="393.85" y2="31.85" stroke-width="1.0"/>
<line x1="391.35" y1="50.90" x2="393.85" y2="50.90" stroke-width="1.0"/>
<line x1="388.95" y1="69.95" x2="393.85" y2="69.95" stroke-width="1.0"/>
<line x1="391.35" y1="89.00" x2="393.85" y2="89.00" stroke-width="1.0"/>
<line x1="388.95" y1="108.05" x2="393.85" y2="108.05" stroke-width="1.0"/>
<line x1="391.35" y1="127.10" x2="393.85" y2="127.10" stroke-width="1.0"/>
<line x1="388.95" y1="146.15" x2="393.85" y2="146.15" stroke-width="1.0"/>
<line x1="391.35" y1="165.20" x2="393.85" y2="165.20" stroke-width="1.0"/>
<line x1="388.95" y1="184.25" x2="393.85" y2="184.25" stroke-width="1.0"/>
<line x1="391.35" y1="203.30" x2="393.85" y2="203.30" stroke-width="1.0"/>
<line x1="388.95" y1="222.35" x2="393.85" y2="222.35" stroke-width="1.0"/>
<line x1="391.35" y1="241.40" x2="393.85" y2="241.40" stroke-width="1.0"/>
<line x1="388.95" y1="260.45" x2="393.85" y2="260.45" stroke-width="1.0"/>
</g>
<text x="386.15" y="34.75" font-size="10" text-anchor="end">10</text>
<text x="386.15" y="72.85" font-size="10" text-anchor="end">5</text>
<text x="386.15" y="110.95" font-size="10" text-anchor="end">0</text>
<text x="386.15" y="149.05" font-size="10" text-anchor="end">−5</text>
<text x="386.15" y="187.15" font-size="10" text-anchor="end">−10</text>
<text x="386.15" y="225.25" font-size="10" text-anchor="end">−15</text>
<text x="386.15" y="263.35" font-size="10" text-anchor="end">−20</text>
<text x="442.35" y="27.00" font-size="10" text-anchor="middle">Low</text>
<text x="539.33" y="27.00" font-size="10" text-anchor="middle">Medium</text>
<text x="636.12" y="27.00" font-size="10" text-anchor="middle">High</text>
<text transform="translate(365.75,146.15) rotate(-90)" font-size="12.2" text-anchor="middle">Absolute error (MPa)</text>
<text x="375.50" y="9.70" font-size="14.7" font-weight="bold">(b)</text>
<rect x="37.0" y="342.25" width="290.60" height="228.60" fill="#C69BA8"/>
<path d="M69.00,372.50 C69.17,373.10 69.35,374.48 70.00,376.10 C70.65,377.72 72.05,380.15 72.90,382.20 C73.75,384.25 74.38,386.43 75.10,388.40 C75.82,390.37 76.23,392.05 77.20,394.00 C78.17,395.95 79.85,398.07 80.90,400.10 C81.95,402.13 82.80,404.15 83.50,406.20 C84.20,408.25 84.73,410.43 85.10,412.40 C85.47,414.37 85.93,416.05 85.70,418.00 C85.47,419.95 84.40,422.07 83.70,424.10 C83.00,426.13 82.25,428.15 81.50,430.20 C80.75,432.25 79.90,434.43 79.20,436.40 C78.50,438.37 78.09,440.05 77.30,442.00 C76.51,443.95 75.33,446.07 74.45,448.10 C73.57,450.13 72.67,452.15 72.00,454.20 C71.33,456.25 70.87,458.43 70.40,460.40 C69.93,462.37 69.58,464.12 69.20,466.00 C68.82,467.88 68.38,469.77 68.10,471.70 C67.82,473.63 67.65,475.62 67.50,477.60 C67.35,479.58 67.31,481.53 67.20,483.60 C67.09,485.67 66.95,486.52 66.85,490.00 C66.75,493.48 66.61,499.68 66.60,504.50 C66.59,509.32 66.70,515.30 66.80,518.90 C66.90,522.50 67.07,523.68 67.20,526.10 C67.33,528.52 67.48,530.38 67.60,533.40 C67.72,536.42 67.85,541.32 67.90,544.20 C67.95,547.08 67.88,548.77 67.90,550.70 C67.92,552.63 67.98,554.95 68.00,555.80 L64.00,555.80 C64.02,554.95 64.08,552.63 64.10,550.70 C64.12,548.77 64.05,547.08 64.10,544.20 C64.15,541.32 64.28,536.42 64.40,533.40 C64.52,530.38 64.67,528.52 64.80,526.10 C64.93,523.68 65.10,522.50 65.20,518.90 C65.30,515.30 65.41,509.32 65.40,504.50 C65.39,499.68 65.25,493.48 65.15,490.00 C65.05,486.52 64.91,485.67 64.80,483.60 C64.69,481.53 64.65,479.58 64.50,477.60 C64.35,475.62 64.18,473.63 63.90,471.70 C63.62,469.77 63.18,467.88 62.80,466.00 C62.42,464.12 62.07,462.37 61.60,460.40 C61.13,458.43 60.67,456.25 60.00,454.20 C59.33,452.15 58.43,450.13 57.55,448.10 C56.67,446.07 55.49,443.95 54.70,442.00 C53.91,440.05 53.50,438.37 52.80,436.40 C52.10,434.43 51.25,432.25 50.50,430.20 C49.75,428.15 49.00,426.13 48.30,424.10 C47.60,422.07 46.53,419.95 46.30,418.00 C46.07,416.05 46.53,414.37 46.90,412.40 C47.27,410.43 47.80,408.25 48.50,406.20 C49.20,404.15 50.05,402.13 51.10,400.10 C52.15,398.07 53.83,395.95 54.80,394.00 C55.77,392.05 56.18,390.37 56.90,388.40 C57.62,386.43 58.25,384.25 59.10,382.20 C59.95,380.15 61.35,377.72 62.00,376.10 C62.65,374.48 62.83,373.10 63.00,372.50 Z" fill="#B3F5C6"/>
<path d="M104.70,372.60 C104.80,372.83 105.08,373.08 105.30,374.00 C105.52,374.92 105.62,376.73 106.00,378.10 C106.38,379.47 106.93,380.83 107.60,382.20 C108.28,383.57 109.07,384.93 110.05,386.30 C111.03,387.67 112.31,389.05 113.50,390.40 C114.69,391.75 116.35,393.47 117.20,394.40 C118.05,395.33 117.77,395.05 118.60,396.00 C119.43,396.95 121.35,398.73 122.20,400.10 C123.05,401.47 123.52,402.85 123.70,404.20 C123.88,405.55 123.68,406.85 123.30,408.20 C122.92,409.55 122.17,410.93 121.40,412.30 C120.63,413.67 119.50,415.12 118.70,416.40 C117.90,417.68 117.22,418.72 116.60,420.00 C115.98,421.28 115.40,422.73 115.00,424.10 C114.60,425.47 114.35,426.85 114.20,428.20 C114.05,429.55 114.12,430.85 114.10,432.20 C114.08,433.55 114.17,434.93 114.10,436.30 C114.03,437.67 113.85,439.12 113.70,440.40 C113.55,441.68 113.57,442.72 113.20,444.00 C112.83,445.28 112.15,446.73 111.50,448.10 C110.85,449.47 110.01,450.85 109.30,452.20 C108.59,453.55 107.80,454.85 107.25,456.20 C106.70,457.55 106.30,458.93 106.00,460.30 C105.70,461.67 105.60,463.12 105.45,464.40 C105.30,465.68 105.23,466.90 105.10,468.00 C104.98,469.10 104.77,470.50 104.70,471.00 L104.70,471.00 C104.63,470.50 104.42,469.10 104.30,468.00 C104.17,466.90 104.10,465.68 103.95,464.40 C103.80,463.12 103.70,461.67 103.40,460.30 C103.10,458.93 102.70,457.55 102.15,456.20 C101.60,454.85 100.81,453.55 100.10,452.20 C99.39,450.85 98.55,449.47 97.90,448.10 C97.25,446.73 96.57,445.28 96.20,444.00 C95.83,442.72 95.85,441.68 95.70,440.40 C95.55,439.12 95.37,437.67 95.30,436.30 C95.23,434.93 95.32,433.55 95.30,432.20 C95.28,430.85 95.35,429.55 95.20,428.20 C95.05,426.85 94.80,425.47 94.40,424.10 C94.00,422.73 93.42,421.28 92.80,420.00 C92.18,418.72 91.50,417.68 90.70,416.40 C89.90,415.12 88.77,413.67 88.00,412.30 C87.23,410.93 86.48,409.55 86.10,408.20 C85.72,406.85 85.52,405.55 85.70,404.20 C85.88,402.85 86.35,401.47 87.20,400.10 C88.05,398.73 89.97,396.95 90.80,396.00 C91.63,395.05 91.35,395.33 92.20,394.40 C93.05,393.47 94.71,391.75 95.90,390.40 C97.09,389.05 98.37,387.67 99.35,386.30 C100.33,384.93 101.12,383.57 101.80,382.20 C102.47,380.83 103.02,379.47 103.40,378.10 C103.78,376.73 103.88,374.92 104.10,374.00 C104.32,373.08 104.60,372.83 104.70,372.60 Z" fill="#6DD0FE"/>
<path d="M163.30,404.00 C163.35,404.50 163.40,406.30 163.60,407.00 C163.80,407.70 164.03,407.57 164.50,408.20 C164.97,408.83 165.37,409.88 166.40,410.80 C167.43,411.72 168.85,412.78 170.70,413.70 C172.55,414.62 175.55,415.58 177.50,416.30 C179.45,417.02 182.40,417.37 182.40,418.00 C182.40,418.63 179.45,419.18 177.50,420.10 C175.55,421.02 172.55,422.30 170.70,423.50 C168.85,424.70 167.43,426.17 166.40,427.30 C165.37,428.43 164.95,429.52 164.50,430.30 C164.05,431.08 163.88,431.22 163.70,432.00 C163.52,432.78 163.47,433.58 163.40,435.00 C163.33,436.42 163.32,439.58 163.30,440.50 L162.70,440.50 C162.68,439.58 162.67,436.42 162.60,435.00 C162.53,433.58 162.48,432.78 162.30,432.00 C162.12,431.22 161.95,431.08 161.50,430.30 C161.05,429.52 160.63,428.43 159.60,427.30 C158.57,426.17 157.15,424.70 155.30,423.50 C153.45,422.30 150.45,421.02 148.50,420.10 C146.55,419.18 143.60,418.63 143.60,418.00 C143.60,417.37 146.55,417.02 148.50,416.30 C150.45,415.58 153.45,414.62 155.30,413.70 C157.15,412.78 158.57,411.72 159.60,410.80 C160.63,409.88 161.03,408.83 161.50,408.20 C161.97,407.57 162.20,407.70 162.40,407.00 C162.60,406.30 162.65,404.50 162.70,404.00 Z" fill="#B3F5C6"/>
<path d="M201.70,373.10 C201.78,373.58 202.07,374.85 202.20,376.00 C202.33,377.15 202.40,378.65 202.50,380.00 C202.60,381.35 202.71,382.83 202.80,384.10 C202.89,385.37 202.98,386.58 203.05,387.60 C203.12,388.62 203.12,389.43 203.20,390.20 C203.27,390.97 203.15,391.18 203.50,392.20 C203.85,393.22 204.47,394.93 205.30,396.30 C206.13,397.67 207.37,399.12 208.50,400.40 C209.63,401.68 210.55,402.72 212.10,404.00 C213.65,405.28 216.37,406.73 217.80,408.10 C219.23,409.47 220.09,410.85 220.70,412.20 C221.31,413.55 221.75,414.85 221.45,416.20 C221.15,417.55 219.85,418.93 218.90,420.30 C217.95,421.67 216.62,423.12 215.75,424.40 C214.88,425.68 214.42,426.72 213.70,428.00 C212.97,429.28 212.09,430.73 211.40,432.10 C210.71,433.47 210.13,434.85 209.55,436.20 C208.97,437.55 208.39,438.85 207.90,440.20 C207.41,441.55 207.02,442.93 206.60,444.30 C206.18,445.67 205.72,447.12 205.35,448.40 C204.98,449.68 204.72,450.88 204.40,452.00 C204.08,453.12 203.71,454.08 203.45,455.10 C203.19,456.12 202.99,457.08 202.85,458.10 C202.71,459.12 202.65,460.18 202.60,461.20 C202.55,462.22 202.50,463.18 202.55,464.20 C202.60,465.22 202.81,466.27 202.90,467.30 C202.99,468.33 203.07,468.87 203.10,470.40 C203.13,471.93 203.15,474.97 203.10,476.50 C203.05,478.03 202.90,478.58 202.80,479.60 C202.70,480.62 202.68,481.33 202.50,482.60 C202.32,483.87 201.83,486.43 201.70,487.20 L201.70,487.20 C201.57,486.43 201.08,483.87 200.90,482.60 C200.72,481.33 200.70,480.62 200.60,479.60 C200.50,478.58 200.35,478.03 200.30,476.50 C200.25,474.97 200.27,471.93 200.30,470.40 C200.33,468.87 200.41,468.33 200.50,467.30 C200.59,466.27 200.80,465.22 200.85,464.20 C200.90,463.18 200.85,462.22 200.80,461.20 C200.75,460.18 200.69,459.12 200.55,458.10 C200.41,457.08 200.21,456.12 199.95,455.10 C199.69,454.08 199.32,453.12 199.00,452.00 C198.68,450.88 198.42,449.68 198.05,448.40 C197.68,447.12 197.22,445.67 196.80,444.30 C196.38,442.93 195.99,441.55 195.50,440.20 C195.01,438.85 194.43,437.55 193.85,436.20 C193.27,434.85 192.69,433.47 192.00,432.10 C191.31,430.73 190.42,429.28 189.70,428.00 C188.97,426.72 188.52,425.68 187.65,424.40 C186.78,423.12 185.45,421.67 184.50,420.30 C183.55,418.93 182.25,417.55 181.95,416.20 C181.65,414.85 182.09,413.55 182.70,412.20 C183.31,410.85 184.17,409.47 185.60,408.10 C187.03,406.73 189.75,405.28 191.30,404.00 C192.85,402.72 193.77,401.68 194.90,400.40 C196.03,399.12 197.27,397.67 198.10,396.30 C198.93,394.93 199.55,393.22 199.90,392.20 C200.25,391.18 200.12,390.97 200.20,390.20 C200.27,389.43 200.28,388.62 200.35,387.60 C200.42,386.58 200.51,385.37 200.60,384.10 C200.69,382.83 200.80,381.35 200.90,380.00 C201.00,378.65 201.07,377.15 201.20,376.00 C201.33,374.85 201.62,373.58 201.70,373.10 Z" fill="#6DD0FE"/>
<path d="M260.00,404.00 C260.03,404.67 260.08,406.83 260.20,408.00 C260.32,409.17 260.48,410.22 260.70,411.00 C260.92,411.78 261.17,412.28 261.50,412.70 C261.83,413.12 261.88,413.12 262.70,413.50 C263.52,413.88 264.53,414.45 266.40,415.00 C268.27,415.55 271.82,416.28 273.90,416.80 C275.98,417.32 278.90,417.68 278.90,418.10 C278.90,418.52 275.98,418.82 273.90,419.30 C271.82,419.78 268.27,420.42 266.40,421.00 C264.53,421.58 263.52,422.25 262.70,422.80 C261.88,423.35 261.87,423.77 261.50,424.30 C261.13,424.83 260.73,425.22 260.50,426.00 C260.27,426.78 260.23,426.67 260.15,429.00 C260.07,431.33 260.02,438.17 260.00,440.00 L259.40,440.00 C259.38,438.17 259.33,431.33 259.25,429.00 C259.17,426.67 259.12,426.78 258.90,426.00 C258.67,425.22 258.27,424.83 257.90,424.30 C257.53,423.77 257.52,423.35 256.70,422.80 C255.88,422.25 254.87,421.58 253.00,421.00 C251.13,420.42 247.58,419.78 245.50,419.30 C243.42,418.82 240.50,418.52 240.50,418.10 C240.50,417.68 243.42,417.32 245.50,416.80 C247.58,416.28 251.13,415.55 253.00,415.00 C254.87,414.45 255.88,413.88 256.70,413.50 C257.52,413.12 257.57,413.12 257.90,412.70 C258.23,412.28 258.48,411.78 258.70,411.00 C258.92,410.22 259.08,409.17 259.20,408.00 C259.32,406.83 259.37,404.67 259.40,404.00 Z" fill="#B3F5C6"/>
<path d="M298.60,384.30 C298.80,385.02 299.48,387.28 299.80,388.60 C300.12,389.92 300.40,390.37 300.50,392.20 C300.60,394.03 300.10,397.35 300.40,399.60 C300.70,401.85 301.48,404.07 302.30,405.70 C303.12,407.33 303.77,408.18 305.30,409.40 C306.83,410.62 309.67,411.88 311.50,413.00 C313.33,414.12 315.18,415.17 316.30,416.10 C317.42,417.03 318.47,417.68 318.20,418.60 C317.93,419.52 316.42,420.48 314.70,421.60 C312.98,422.72 309.85,424.07 307.90,425.30 C305.95,426.53 304.20,427.78 303.00,429.00 C301.80,430.22 301.18,431.38 300.70,432.60 C300.22,433.82 300.17,435.07 300.10,436.30 C300.03,437.53 300.38,438.57 300.30,440.00 C300.22,441.43 299.88,443.37 299.60,444.90 C299.32,446.43 298.77,448.48 298.60,449.20 L298.60,449.20 C298.43,448.48 297.88,446.43 297.60,444.90 C297.32,443.37 296.98,441.43 296.90,440.00 C296.82,438.57 297.17,437.53 297.10,436.30 C297.03,435.07 296.98,433.82 296.50,432.60 C296.02,431.38 295.40,430.22 294.20,429.00 C293.00,427.78 291.25,426.53 289.30,425.30 C287.35,424.07 284.22,422.72 282.50,421.60 C280.78,420.48 279.27,419.52 279.00,418.60 C278.73,417.68 279.78,417.03 280.90,416.10 C282.02,415.17 283.87,414.12 285.70,413.00 C287.53,411.88 290.37,410.62 291.90,409.40 C293.43,408.18 294.08,407.33 294.90,405.70 C295.72,404.07 296.50,401.85 296.80,399.60 C297.10,397.35 296.60,394.03 296.70,392.20 C296.80,390.37 297.08,389.92 297.40,388.60 C297.72,387.28 298.40,385.02 298.60,384.30 Z" fill="#6DD0FE"/>
<circle cx="66.00" cy="380.70" r="1.75"/>
<circle cx="66.00" cy="403.00" r="1.75"/>
<circle cx="66.00" cy="410.60" r="1.75"/>
<circle cx="66.00" cy="412.40" r="1.75"/>
<circle cx="66.00" cy="414.30" r="1.75"/>
<circle cx="66.00" cy="421.20" r="1.75"/>
<circle cx="66.00" cy="423.80" r="1.75"/>
<circle cx="66.00" cy="428.90" r="1.75"/>
<circle cx="66.00" cy="430.60" r="1.75"/>
<circle cx="66.00" cy="436.00" r="1.75"/>
<circle cx="66.00" cy="461.90" r="1.75"/>
<circle cx="66.00" cy="544.20" r="1.75"/>
<circle cx="104.70" cy="401.00" r="1.75"/>
<circle cx="104.70" cy="403.50" r="1.75"/>
<circle cx="104.70" cy="409.50" r="1.75"/>
<circle cx="104.70" cy="417.40" r="1.75"/>
<circle cx="104.70" cy="438.00" r="1.75"/>
<circle cx="104.70" cy="440.60" r="1.75"/>
<circle cx="163.00" cy="406.30" r="1.75"/>
<circle cx="163.00" cy="410.50" r="1.75"/>
<circle cx="163.00" cy="411.80" r="1.75"/>
<circle cx="163.00" cy="413.10" r="1.75"/>
<circle cx="163.00" cy="414.40" r="1.75"/>
<circle cx="163.00" cy="415.70" r="1.75"/>
<circle cx="163.00" cy="417.00" r="1.75"/>
<circle cx="163.00" cy="418.30" r="1.75"/>
<circle cx="163.00" cy="419.60" r="1.75"/>
<circle cx="163.00" cy="420.90" r="1.75"/>
<circle cx="163.00" cy="422.20" r="1.75"/>
<circle cx="163.00" cy="423.50" r="1.75"/>
<circle cx="163.00" cy="424.80" r="1.75"/>
<circle cx="163.00" cy="426.10" r="1.75"/>
<circle cx="163.00" cy="427.40" r="1.75"/>
<circle cx="163.00" cy="428.70" r="1.75"/>
<circle cx="163.00" cy="430.00" r="1.75"/>
<circle cx="163.00" cy="431.30" r="1.75"/>
<circle cx="163.00" cy="438.80" r="1.75"/>
<circle cx="201.70" cy="387.70" r="1.75"/>
<circle cx="201.70" cy="403.00" r="1.75"/>
<circle cx="201.70" cy="404.30" r="1.75"/>
<circle cx="201.70" cy="405.60" r="1.75"/>
<circle cx="201.70" cy="406.90" r="1.75"/>
<circle cx="201.70" cy="408.20" r="1.75"/>
<circle cx="201.70" cy="409.50" r="1.75"/>
<circle cx="201.70" cy="410.80" r="1.75"/>
<circle cx="201.70" cy="412.10" r="1.75"/>
<circle cx="201.70" cy="413.40" r="1.75"/>
<circle cx="201.70" cy="414.70" r="1.75"/>
<circle cx="201.70" cy="416.00" r="1.75"/>
<circle cx="201.70" cy="417.30" r="1.75"/>
<circle cx="201.70" cy="418.60" r="1.75"/>
<circle cx="201.70" cy="419.90" r="1.75"/>
<circle cx="201.70" cy="421.20" r="1.75"/>
<circle cx="201.70" cy="427.80" r="1.75"/>
<circle cx="201.70" cy="429.80" r="1.75"/>
<circle cx="201.70" cy="432.00" r="1.75"/>
<circle cx="201.70" cy="434.40" r="1.75"/>
<circle cx="201.70" cy="442.00" r="1.75"/>
<circle cx="201.70" cy="443.80" r="1.75"/>
<circle cx="201.70" cy="446.60" r="1.75"/>
<circle cx="201.70" cy="472.80" r="1.75"/>
<circle cx="259.70" cy="406.10" r="1.75"/>
<circle cx="259.70" cy="411.50" r="1.75"/>
<circle cx="259.70" cy="412.80" r="1.75"/>
<circle cx="259.70" cy="414.10" r="1.75"/>
<circle cx="259.70" cy="415.40" r="1.75"/>
<circle cx="259.70" cy="416.70" r="1.75"/>
<circle cx="259.70" cy="418.00" r="1.75"/>
<circle cx="259.70" cy="419.30" r="1.75"/>
<circle cx="259.70" cy="420.60" r="1.75"/>
<circle cx="259.70" cy="421.90" r="1.75"/>
<circle cx="259.70" cy="423.20" r="1.75"/>
<circle cx="259.70" cy="424.50" r="1.75"/>
<circle cx="259.70" cy="425.80" r="1.75"/>
<circle cx="259.70" cy="427.10" r="1.75"/>
<circle cx="259.70" cy="428.40" r="1.75"/>
<circle cx="259.70" cy="431.00" r="1.75"/>
<circle cx="259.70" cy="434.80" r="1.75"/>
<circle cx="259.70" cy="438.50" r="1.75"/>
<circle cx="298.60" cy="391.90" r="1.75"/>
<circle cx="298.60" cy="395.50" r="1.75"/>
<circle cx="298.60" cy="397.00" r="1.75"/>
<circle cx="298.60" cy="403.00" r="1.75"/>
<circle cx="298.60" cy="409.40" r="1.75"/>
<circle cx="298.60" cy="412.50" r="1.75"/>
<circle cx="298.60" cy="413.80" r="1.75"/>
<circle cx="298.60" cy="415.10" r="1.75"/>
<circle cx="298.60" cy="416.40" r="1.75"/>
<circle cx="298.60" cy="417.70" r="1.75"/>
<circle cx="298.60" cy="419.00" r="1.75"/>
<circle cx="298.60" cy="420.30" r="1.75"/>
<circle cx="298.60" cy="421.60" r="1.75"/>
<circle cx="298.60" cy="422.90" r="1.75"/>
<circle cx="298.60" cy="424.20" r="1.75"/>
<circle cx="298.60" cy="425.50" r="1.75"/>
<circle cx="298.60" cy="426.80" r="1.75"/>
<circle cx="298.60" cy="428.10" r="1.75"/>
<circle cx="298.60" cy="438.50" r="1.75"/>
<circle cx="298.60" cy="440.00" r="1.75"/>
<circle cx="298.60" cy="441.50" r="1.75"/>
<rect x="267.9" y="540.4" width="27.10" height="13.40" fill="#B3F5C6"/>
<rect x="267.9" y="555.1" width="27.10" height="13.70" fill="#6DD0FE"/>
<text x="297.8" y="551.0" font-size="12.3">Train</text>
<text x="297.8" y="566.0" font-size="12.3">Test</text>
<g stroke="#141414" stroke-width="1.2" fill="none">
<rect x="37.0" y="325.85" width="290.60" height="245.00"/>
<line x1="37.0" y1="342.25" x2="327.6" y2="342.25"/>
<line x1="134.00" y1="325.85" x2="134.00" y2="570.85"/>
<line x1="230.95" y1="325.85" x2="230.95" y2="570.85"/>
<line x1="32.10" y1="342.25" x2="37.0" y2="342.25" stroke-width="1.0"/>
<line x1="34.50" y1="361.30" x2="37.0" y2="361.30" stroke-width="1.0"/>
<line x1="32.10" y1="380.35" x2="37.0" y2="380.35" stroke-width="1.0"/>
<line x1="34.50" y1="399.40" x2="37.0" y2="399.40" stroke-width="1.0"/>
<line x1="32.10" y1="418.45" x2="37.0" y2="418.45" stroke-width="1.0"/>
<line x1="34.50" y1="437.50" x2="37.0" y2="437.50" stroke-width="1.0"/>
<line x1="32.10" y1="456.55" x2="37.0" y2="456.55" stroke-width="1.0"/>
<line x1="34.50" y1="475.60" x2="37.0" y2="475.60" stroke-width="1.0"/>
<line x1="32.10" y1="494.65" x2="37.0" y2="494.65" stroke-width="1.0"/>
<line x1="34.50" y1="513.70" x2="37.0" y2="513.70" stroke-width="1.0"/>
<line x1="32.10" y1="532.75" x2="37.0" y2="532.75" stroke-width="1.0"/>
<line x1="34.50" y1="551.80" x2="37.0" y2="551.80" stroke-width="1.0"/>
<line x1="32.10" y1="570.85" x2="37.0" y2="570.85" stroke-width="1.0"/>
</g>
<text x="29.30" y="345.15" font-size="10" text-anchor="end">10</text>
<text x="29.30" y="383.25" font-size="10" text-anchor="end">5</text>
<text x="29.30" y="421.35" font-size="10" text-anchor="end">0</text>
<text x="29.30" y="459.45" font-size="10" text-anchor="end">−5</text>
<text x="29.30" y="497.55" font-size="10" text-anchor="end">−10</text>
<text x="29.30" y="535.65" font-size="10" text-anchor="end">−15</text>
<text x="29.30" y="573.75" font-size="10" text-anchor="end">−20</text>
<text x="85.50" y="338.00" font-size="10" text-anchor="middle">Low</text>
<text x="182.47" y="338.00" font-size="10" text-anchor="middle">Medium</text>
<text x="279.27" y="338.00" font-size="10" text-anchor="middle">High</text>
<text transform="translate(8.90,456.55) rotate(-90)" font-size="12.2" text-anchor="middle">Absolute error (MPa)</text>
<text x="21.50" y="320.90" font-size="14.7" font-weight="bold">(c)</text>
<rect x="416.00" y="555.26" width="25.20" height="15.14" fill="#BF5B00"/>
<rect x="440.60" y="563.78" width="24.6" height="6.62" fill="#8DB84B"/>
<text x="440.60" y="586.00" font-size="10" text-anchor="middle">Low-strength</text>
<rect x="512.00" y="444.58" width="25.20" height="125.82" fill="#BF5B00"/>
<rect x="536.60" y="533.51" width="24.6" height="36.89" fill="#8DB84B"/>
<text x="536.60" y="586.00" font-size="10" text-anchor="middle">Medium-strength</text>
<rect x="608.20" y="368.90" width="25.20" height="201.50" fill="#BF5B00"/>
<rect x="632.80" y="527.83" width="24.6" height="42.57" fill="#8DB84B"/>
<text x="632.80" y="586.00" font-size="10" text-anchor="middle">High-strength</text>
<g stroke="#141414" stroke-width="1.2" fill="none">
<polyline points="392.35,333.9 392.35,570.4 681.0,570.4"/>
<line x1="387.75" y1="570.40" x2="392.35" y2="570.40" stroke-width="1.1"/>
<line x1="387.75" y1="523.10" x2="392.35" y2="523.10" stroke-width="1.1"/>
<line x1="387.75" y1="475.80" x2="392.35" y2="475.80" stroke-width="1.1"/>
<line x1="387.75" y1="428.50" x2="392.35" y2="428.50" stroke-width="1.1"/>
<line x1="387.75" y1="381.20" x2="392.35" y2="381.20" stroke-width="1.1"/>
<line x1="387.75" y1="333.90" x2="392.35" y2="333.90" stroke-width="1.1"/>
<line x1="440.60" y1="570.4" x2="440.60" y2="575.20"/>
<line x1="536.60" y1="570.4" x2="536.60" y2="575.20"/>
<line x1="632.80" y1="570.4" x2="632.80" y2="575.20"/>
</g>
<text x="384.60" y="573.15" font-size="10" text-anchor="end">0</text>
<text x="384.60" y="525.85" font-size="10" text-anchor="end">50</text>
<text x="384.60" y="478.55" font-size="10" text-anchor="end">100</text>
<text x="384.60" y="431.25" font-size="10" text-anchor="end">150</text>
<text x="384.60" y="383.95" font-size="10" text-anchor="end">200</text>
<text x="384.60" y="336.65" font-size="10" text-anchor="end">250</text>
<text transform="translate(365.0,452.15) rotate(-90)" font-size="12.2" text-anchor="middle">Data size</text>
<rect x="400.1" y="335.1" width="27.1" height="13.7" fill="#BF5B00"/>
<rect x="400.1" y="350.3" width="27.1" height="13.1" fill="#8DB84B"/>
<text x="430.2" y="346.1" font-size="12.4">Train</text>
<text x="430.2" y="360.9" font-size="12.4">Test</text>
<text x="381.5" y="322.5" font-size="14.7" font-weight="bold">(d)</text>
</svg>
</body></html>
